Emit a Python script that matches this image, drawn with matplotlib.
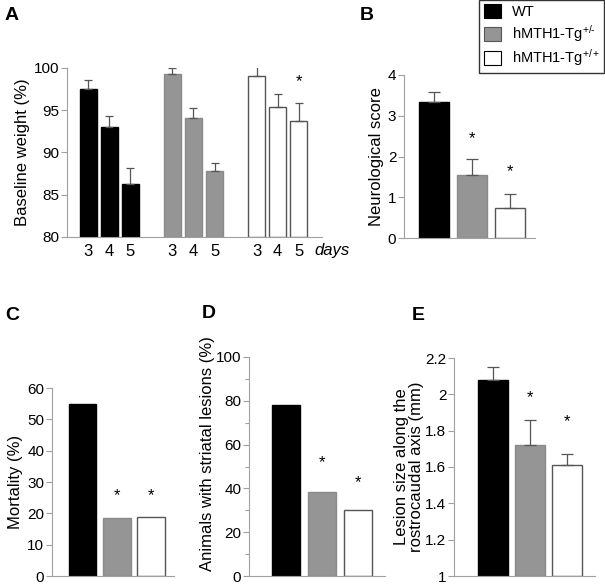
import numpy as np
import matplotlib.pyplot as plt
from matplotlib.patches import Patch

plt.rcParams['font.family'] = ['Liberation Sans', 'DejaVu Sans']
plt.rcParams['mathtext.fontset'] = 'custom'
plt.rcParams['mathtext.rm'] = 'Liberation Sans'
plt.rcParams['mathtext.it'] = 'Liberation Sans:italic'

# data
groups = ['WT', 'hMTH1-Tg$^{+/\u2010}$', 'hMTH1-Tg$^{+/+}$']
days = ['3', '4', '5']
weight = [[97.5, 93.0, 86.3], [99.3, 94.1, 87.8], [99.1, 95.4, 93.7]]
weight_err = [[1.1, 1.3, 1.9], [0.7, 1.2, 1.0], [1.3, 1.5, 2.1]]
weight_star_y = [None, None, 98.4]

neuro = [3.33, 1.55, 0.73]
neuro_err = [0.25, 0.38, 0.36]
neuro_star_y = [None, 2.43, 1.62]

mortality = [55.0, 18.6, 18.8]
mortality_star_y = [None, 25.7, 25.7]

lesions = [78.0, 38.3, 30.0]
lesions_star_y = [None, 51.8, 42.8]

lesion_size = [2.08, 1.72, 1.61]
lesion_size_err = [0.07, 0.14, 0.06]
lesion_size_star_y = [None, 1.98, 1.85]

face = ['black', '#959595', 'white']
edge = ['black', '#8a8a8a', '#555555']
spine_c = '#a0a0a0'
err_c = '#555555'

fig = plt.figure(figsize=(6.05, 5.85), dpi=100)


def style(ax):
    for s in ['top', 'right']:
        ax.spines[s].set_visible(False)
    for s in ['left', 'bottom']:
        ax.spines[s].set_color(spine_c)
        ax.spines[s].set_linewidth(0.8)
    ax.tick_params(axis='y', colors=spine_c, labelcolor='black', labelsize=11,
                   length=4, width=0.8, pad=1.5)
    ax.tick_params(axis='y', which='minor', colors=spine_c, length=3, width=0.8)
    ax.tick_params(axis='x', length=0, labelsize=12)


def bars3(ax, vals, errs, stars, ylab):
    x = np.arange(3)
    for i in range(3):
        ax.bar(x[i], vals[i], 0.8, color=face[i], edgecolor=edge[i], linewidth=1.0, zorder=2)
        if errs is not None:
            ax.errorbar(x[i], vals[i], yerr=[[0], [errs[i]]], fmt='none', ecolor=err_c,
                        elinewidth=0.9, capsize=4, capthick=0.9, zorder=3)
        if stars[i] is not None:
            ax.text(x[i], stars[i], '*', ha='center', va='center', fontsize=12)
    ax.set_xticks([])
    ax.set_ylabel(ylab, fontsize=12, labelpad=3)
    style(ax)


bot = 576  # baseline of the lower row, in pixels from the top

# A
axA = fig.add_axes([67 / 605, 1 - 237 / 585, 255 / 605, 169 / 585])
pos = []
for g in range(3):
    xs = np.arange(3) + 4 * g
    pos.extend(xs)
    for k in range(3):
        axA.bar(xs[k], weight[g][k] - 80, 0.8, bottom=80, color=face[g], edgecolor=edge[g],
                linewidth=1.0, zorder=2)
        axA.errorbar(xs[k], weight[g][k], yerr=[[0], [weight_err[g][k]]], fmt='none',
                     ecolor=err_c, elinewidth=0.9, capsize=3, capthick=0.9, zorder=3)
    if weight_star_y[g] is not None:
        axA.text(xs[2], weight_star_y[g], '*', ha='center', va='center', fontsize=12)
axA.set_ylim(80, 100)
axA.set_xlim(-1.0, 11.1)
axA.set_yticks([80, 85, 90, 95, 100])
axA.set_xticks(pos)
axA.set_xticklabels(days * 3)
axA.set_ylabel('Baseline weight (%)', fontsize=12, labelpad=3)
style(axA)
axA.tick_params(axis='x', pad=5)
axA.text(10.75, 78.45, 'days', style='italic', fontsize=12, ha='left', va='center',
         clip_on=False)

# B
axB = fig.add_axes([404 / 605, 1 - 238 / 585, 131 / 605, 163 / 585])
bars3(axB, neuro, neuro_err, neuro_star_y, 'Neurological score')
axB.set_ylim(0, 4)
axB.set_xlim(-0.79, 2.66)
axB.set_yticks([0, 1, 2, 3, 4])

# C
axC = fig.add_axes([52 / 605, 1 - bot / 585, 122 / 605, (bot - 388) / 585])
bars3(axC, mortality, None, mortality_star_y, 'Mortality (%)')
axC.set_ylim(0, 60)
axC.set_xlim(-0.9, 2.67)
axC.set_yticks(range(0, 61, 10))

# D
axD = fig.add_axes([249 / 605, 1 - bot / 585, 136 / 605, (bot - 357) / 585])
bars3(axD, lesions, None, lesions_star_y, 'Animals with striatal lesions (%)')
axD.set_ylim(0, 100)
axD.set_xlim(-1.03, 2.75)
axD.set_yticks(range(0, 101, 20))
axD.set_yticks(range(10, 100, 20), minor=True)
axD.yaxis.set_label_coords(-0.25, 0.56)

# E
axE = fig.add_axes([454 / 605, 1 - bot / 585, 141 / 605, (bot - 358) / 585])
xE = np.arange(3)
for i in range(3):
    axE.bar(xE[i], lesion_size[i] - 1, 0.8, bottom=1, color=face[i], edgecolor=edge[i],
            linewidth=1.0, zorder=2)
    axE.errorbar(xE[i], lesion_size[i], yerr=[[0], [lesion_size_err[i]]], fmt='none',
                 ecolor=err_c, elinewidth=0.9, capsize=4, capthick=0.9, zorder=3)
    if lesion_size_star_y[i] is not None:
        axE.text(xE[i], lesion_size_star_y[i], '*', ha='center', va='center', fontsize=12)
axE.set_xticks([])
axE.set_ylim(1, 2.2)
axE.set_xlim(-1.05, 2.76)
axE.set_yticks([1, 1.2, 1.4, 1.6, 1.8, 2, 2.2])
axE.set_yticklabels(['1', '1.2', '1.4', '1.6', '1.8', '2', '2.2'])
axE.set_ylabel('Lesion size along the\nrostrocaudal axis (mm)', fontsize=12,
               labelpad=1, linespacing=0.95)
style(axE)

# panel letters
for lab, px, py in [('A', 5, 15), ('B', 360, 15), ('C', 5, 315), ('D', 202, 313), ('E', 412, 315)]:
    fig.text(px / 605, 1 - py / 585, lab, fontsize=14, fontweight='bold', ha='left', va='center')

# legend
handles = [Patch(facecolor=face[i], edgecolor='black' if i != 1 else '#555555', linewidth=0.8)
           for i in range(3)]
leg = fig.legend(handles, groups, loc='upper right', bbox_to_anchor=(604 / 605, 1.0),
                 fontsize=10.5, frameon=True, fancybox=False, edgecolor='black',
                 handlelength=1.2, handleheight=1.1, handletextpad=0.7, borderpad=0.3,
                 labelspacing=0.25, borderaxespad=0)
leg.get_frame().set_linewidth(1.0)

fig.savefig('out.png', dpi=100)
